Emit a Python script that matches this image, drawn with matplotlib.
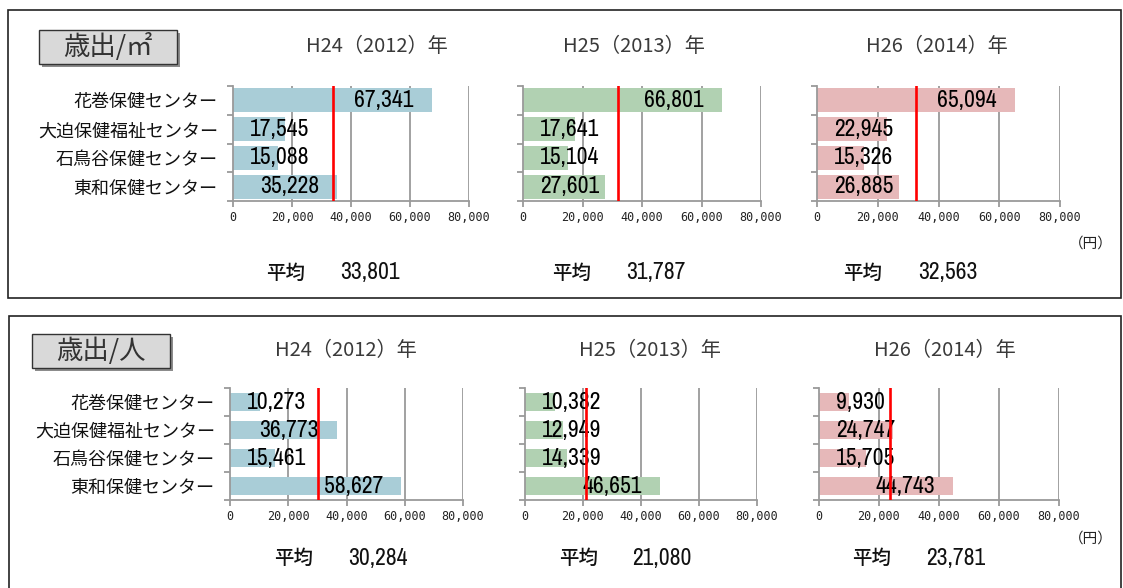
import matplotlib
matplotlib.use("Agg")
import matplotlib.pyplot as plt
import matplotlib.font_manager as fm
from matplotlib.font_manager import FontProperties
from matplotlib.patches import Rectangle

# ---------------- data ----------------
categories = ['花巻保健センター', '大迫保健福祉センター', '石鳥谷保健センター', '東和保健センター']
years = ['H24（2012）年', 'H25（2013）年', 'H26（2014）年']

m2_h24 = [67341, 17545, 15088, 35228]
m2_h25 = [66801, 17641, 15104, 27601]
m2_h26 = [65094, 22945, 15326, 26885]
m2_avg = [33801, 31787, 32563]

person_h24 = [10273, 36773, 15461, 58627]
person_h25 = [10382, 12949, 14339, 46651]
person_h26 = [9930, 24747, 15705, 44743]
person_avg = [30284, 21080, 23781]

x_ticks = [0, 20000, 40000, 60000, 80000]
panel_labels = ['歳出/㎡', '歳出/人']
avg_label = '平均'
unit_label = '（円）'
year_colors = ['#a9cdd7', '#b1d1b2', '#e6b8b9']

# ---------------- fonts ----------------
entries = fm.fontManager.ttflist
avail = {f.name for f in entries}
JP = 'Noto Sans CJK JP' if 'Noto Sans CJK JP' in avail else 'DejaVu Sans'


def find_narrow():
    def ok(f):
        return f.style == 'normal' and f.weight in (400, 'normal', 'regular', 'book')
    for f in entries:
        if f.name == 'Noto Sans Mono CJK JP' and ok(f):
            return f.fname, 16
    for key in ('Narrow', 'Condensed'):
        for pref in ('Liberation', 'Roboto', 'Noto Sans', 'Open Sans', 'DejaVu Sans', ''):
            for f in entries:
                if key in f.name and f.name.startswith(pref) and ok(f) and 'Mono' not in f.name \
                        and 'Extra' not in f.name and 'Semi' not in f.name and 'Ultra' not in f.name:
                    return f.fname, 17
    for pref in ('Roboto', 'Noto Sans', 'Open Sans', 'DejaVu Sans'):
        for f in entries:
            if f.name.startswith(pref) and f.stretch in ('condensed', 'semi-condensed') and ok(f) \
                    and 'Mono' not in f.name:
                return f.fname, 17
    return None, 13


_nf, NUM_SIZE = find_narrow()
if _nf:
    NUMPROP = dict(fontproperties=FontProperties(fname=_nf, size=NUM_SIZE))
else:
    NUMPROP = dict(fontproperties=FontProperties(family='DejaVu Sans', size=NUM_SIZE))
TICK_FONT, TICK_SIZE = 'DejaVu Sans Mono', 8.5

W, H = 1123, 588
fig = plt.figure(figsize=(W / 100, H / 100), dpi=100)


def rect(x0, y0, x1, y1):
    return [x0 / W, 1 - y1 / H, (x1 - x0) / W, (y1 - y0) / H]


def fx(x):
    return x / W


def fy(y):
    return 1 - y / H


GRID = '#9a9a9a'

panels = [
    dict(data=[m2_h24, m2_h25, m2_h26], avg=m2_avg, ytop=86, ybot=201,
         xs=[(233, 469), (523, 761), (817, 1060)], barw=0.84,
         titles=[(377, 47), (634, 47), (937, 47)],
         avgpos=[(266, 340), (552, 626), (843, 918)], avgy=273, unity=244,
         frame=(8, 10, 1121, 298), box=(39, 30, 177, 64)),
    dict(data=[person_h24, person_h25, person_h26], avg=person_avg, ytop=388, ybot=500,
         xs=[(230, 463), (525, 757), (819, 1059)], barw=0.66,
         titles=[(346, 350), (650, 350), (945, 350)],
         avgpos=[(274, 348), (559, 632), (852, 926)], avgy=558, unity=539,
         frame=(9, 316, 1121, 640), box=(32, 334, 170, 368)),
]

label_jobs = []

for pi, p in enumerate(panels):
    x0, y0, x1, y1 = p['frame']
    fig.add_artist(Rectangle((fx(x0), fy(y1)), (x1 - x0) / W, (y1 - y0) / H,
                             transform=fig.transFigure, fill=False,
                             edgecolor='#222222', linewidth=1.2, zorder=0))
    bx0, by0, bx1, by1 = p['box']
    fig.add_artist(Rectangle((fx(bx0 + 3), fy(by1 + 3)), (bx1 - bx0) / W, (by1 - by0) / H,
                             transform=fig.transFigure, facecolor='#8c8c8c',
                             edgecolor='none', zorder=1))
    fig.add_artist(Rectangle((fx(bx0), fy(by1)), (bx1 - bx0) / W, (by1 - by0) / H,
                             transform=fig.transFigure, facecolor='#d9d9d9',
                             edgecolor='#333333', linewidth=1.0, zorder=2))
    fig.text(fx((bx0 + bx1) / 2), fy((by0 + by1) / 2), panel_labels[pi],
             ha='center', va='center', fontsize=19, family=[JP, 'DejaVu Sans'],
             color='#333333', zorder=3)

    for ci in range(3):
        xa, xb = p['xs'][ci]
        ax = fig.add_axes(rect(xa, p['ytop'], xb, p['ybot']))
        vals = p['data'][ci]
        ypos = list(range(len(categories)))
        ax.barh(ypos, vals, height=p['barw'], color=year_colors[ci], zorder=2)
        ax.set_xlim(0, 80000)
        ax.set_ylim(len(categories) - 0.5, -0.5)
        ax.axvline(p['avg'][ci], color='#ff0000', linewidth=1.9, zorder=6)
        for t in x_ticks[1:]:
            ax.axvline(t, color=GRID, linewidth=1.3, zorder=1)
        for s in ['top', 'right']:
            ax.spines[s].set_visible(False)
        for s in ['left', 'bottom']:
            ax.spines[s].set_color(GRID)
            ax.spines[s].set_linewidth(1.3)
        ax.set_xticks(x_ticks)
        ax.set_xticklabels([f'{t:,}' for t in x_ticks], family=TICK_FONT,
                           fontsize=TICK_SIZE, color='#222222')
        ax.tick_params(axis='x', direction='out', length=4, width=1.3, color=GRID, pad=3)
        ax.set_yticks(ypos)
        if ci == 0:
            ax.set_yticklabels(categories, family=[JP, 'DejaVu Sans'], fontsize=13,
                               color='#111111')
        else:
            ax.set_yticklabels([])
        ax.tick_params(axis='y', which='major', length=0, pad=11)
        ax.set_yticks([i - 0.5 for i in range(len(categories) + 1)], minor=True)
        ax.tick_params(axis='y', which='minor', direction='out', length=4, width=1.3, color=GRID)
        ax.set_facecolor('none')

        for yi, v in enumerate(vals):
            label_jobs.append((ax, yi, v))

        tx, ty = p['titles'][ci]
        fig.text(fx(tx), fy(ty), years[ci], ha='center', va='center', fontsize=14.5,
                 family=[JP, 'DejaVu Sans'], color='#3a3a3a')
        ax_, nx_ = p['avgpos'][ci]
        fig.text(fx(ax_), fy(p['avgy']), avg_label, ha='left', va='center', fontsize=14,
                 family=[JP, 'DejaVu Sans'], fontweight='medium', color='#111111')
        fig.text(fx(nx_), fy(p['avgy']), f"{p['avg'][ci]:,}", ha='left', va='center',
                 color='#111111', **NUMPROP)
    fig.text(fx(1091), fy(p['unity']), unit_label, ha='center', va='center', fontsize=10.5,
             family=[JP, 'DejaVu Sans'], color='#222222')

# data labels: inside end, clamped to the left edge of the plot
fig.canvas.draw()
renderer = fig.canvas.get_renderer()
for ax, yi, v in label_jobs:
    t = ax.text(v, yi, f'{v:,}', ha='right', va='center', color='#000000', zorder=5,
                **NUMPROP)
    bb = t.get_window_extent(renderer)
    ydisp = ax.transData.transform((v, yi))[1]
    x_end_disp = ax.transData.transform((v, yi))[0] - 18
    x0_disp = ax.transData.transform((0, yi))[0] + 17
    if x_end_disp - bb.width < x0_disp:
        x_end_disp = x0_disp + bb.width
    xd = ax.transData.inverted().transform((x_end_disp, ydisp))[0]
    t.set_x(xd)

fig.savefig('out.png', dpi=100)
